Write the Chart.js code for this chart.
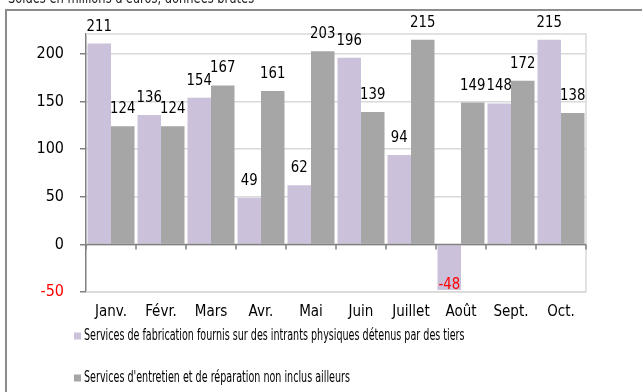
<!DOCTYPE html>
<html>
<head>
<meta charset="utf-8">
<script src="https://cdn.jsdelivr.net/npm/chart.js@4"></script>
<style>
  html, body { margin: 0; padding: 0; background: #fff; }
  canvas { display: block; }
</style>
</head>
<body>
<canvas id="c" width="642" height="392"></canvas>
<script>
// Monthly balances, millions of euros
const months = ['Janv.', 'Févr.', 'Mars', 'Avr.', 'Mai', 'Juin', 'Juillet', 'Août', 'Sept.', 'Oct.'];
const fabrication = [211, 136, 154, 49, 62, 196, 94, -48, 148, 215];
const entretien = [124, 124, 167, 161, 203, 139, 215, 149, 172, 138];
const seriesNames = [
  'Services de fabrication fournis sur des intrants physiques détenus par des tiers',
  "Services d'entretien et de réparation non inclus ailleurs"
];
const yTicks = [-50, 0, 50, 100, 150, 200];
const subtitle = "Soldes en millions d'euros, données brutes";

const FONT = '"Liberation Sans Narrow", "DejaVu Sans Condensed", "Arial Narrow", sans-serif';
const PURPLE = '#ccc1da';
const GREY = '#a6a6a6';

// Draws text squeezed horizontally to a narrow face
function narrowText(ctx, text, x, y, squeeze) {
  ctx.save();
  ctx.translate(x, y);
  ctx.scale(squeeze, 1);
  ctx.fillText(text, 0, 0);
  ctx.restore();
}

// Outer frame and the caption above it
const framePlugin = {
  id: 'frame',
  beforeDraw(chart) {
    const ctx = chart.ctx;
    ctx.save();
    ctx.fillStyle = '#fff';
    ctx.fillRect(0, 0, chart.width, chart.height);
    ctx.fillStyle = '#222';
    ctx.font = '15px ' + FONT;
    ctx.textAlign = 'left';
    ctx.textBaseline = 'alphabetic';
    narrowText(ctx, subtitle, 8, 3, 0.85);
    ctx.strokeStyle = '#8c8c8c';
    ctx.lineWidth = 2;
    ctx.beginPath();
    ctx.moveTo(6, chart.height + 2);
    ctx.lineTo(6, 10);
    ctx.lineTo(chart.width + 2, 10);
    ctx.stroke();
    ctx.restore();
  },
  beforeDatasetsDraw(chart) {
    const { ctx, chartArea: a } = chart;
    ctx.save();
    ctx.strokeStyle = '#d9d9d9';
    ctx.lineWidth = 1.5;
    ctx.beginPath();
    ctx.moveTo(a.left, a.top);
    ctx.lineTo(a.right, a.top);
    ctx.lineTo(a.right, a.bottom);
    ctx.lineTo(a.left, a.bottom);
    ctx.stroke();
    ctx.restore();
  }
};

// Zero line with category tick marks, value labels and the legend
const valuePlugin = {
  id: 'values',
  afterDatasetsDraw(chart) {
    const { ctx, chartArea: a, scales: { x, y } } = chart;
    const y0 = y.getPixelForValue(0);
    ctx.save();
    ctx.strokeStyle = '#808080';
    ctx.lineWidth = 1.5;
    ctx.beginPath();
    ctx.moveTo(a.left, y0);
    ctx.lineTo(a.right, y0);
    for (let i = 0; i <= months.length; i++) {
      const px = x.getPixelForValue(i - 0.5);
      ctx.moveTo(px, y0);
      ctx.lineTo(px, y0 + 5);
    }
    ctx.stroke();

    ctx.font = '16px ' + FONT;
    ctx.textAlign = 'center';
    ctx.textBaseline = 'alphabetic';
    chart.data.datasets.forEach((ds, i) => {
      chart.getDatasetMeta(i).data.forEach((bar, j) => {
        const v = ds.data[j];
        if (v >= 0) {
          ctx.fillStyle = '#000';
          narrowText(ctx, String(v), bar.x, bar.y - 13, 0.92);
        } else {
          ctx.fillStyle = '#ff0000';
          narrowText(ctx, String(v), bar.x, bar.y - 1, 0.92);
        }
      });
    });
    ctx.restore();
  },
  afterDraw(chart) {
    const ctx = chart.ctx;
    ctx.save();
    ctx.font = '15px ' + FONT;
    ctx.textAlign = 'left';
    ctx.textBaseline = 'middle';
    const rows = [336, 378];
    chart.data.datasets.forEach((ds, i) => {
      ctx.fillStyle = ds.backgroundColor;
      ctx.fillRect(74, rows[i] - 3.5, 7, 7);
      ctx.fillStyle = '#000';
      narrowText(ctx, ds.label, 84, rows[i], 0.71);
    });
    ctx.restore();
  }
};

new Chart(document.getElementById('c'), {
  type: 'bar',
  data: {
    labels: months,
    datasets: [
      { label: seriesNames[0], data: fabrication, backgroundColor: PURPLE },
      { label: seriesNames[1], data: entretien, backgroundColor: GREY }
    ]
  },
  options: {
    responsive: false,
    animation: false,
    devicePixelRatio: 1,
    layout: { padding: { left: 0, top: 34, right: 56, bottom: 0 } },
    datasets: { bar: { categoryPercentage: 0.94, barPercentage: 1.0 } },
    plugins: { legend: { display: false }, tooltip: { enabled: false } },
    scales: {
      x: {
        grid: { display: false, drawTicks: false },
        border: { display: false },
        ticks: { color: '#000', font: { family: FONT, size: 15 }, padding: 11, maxRotation: 0 },
        afterFit(scale) { scale.height = 100; }
      },
      y: {
        min: -50,
        max: 221,
        afterBuildTicks(scale) { scale.ticks = yTicks.map(v => ({ value: v })); },
        grid: { color: '#d9d9d9', lineWidth: 1.5, tickColor: '#808080', tickLength: 6 },
        border: { color: '#808080', width: 1.5 },
        ticks: {
          padding: 16,
          font: { family: FONT, size: 16 },
          color: (c) => (c.tick && c.tick.value < 0 ? '#ff0000' : '#000')
        },
        afterFit(scale) { scale.width = 86; }
      }
    }
  },
  plugins: [framePlugin, valuePlugin]
});
</script>
</body>
</html>
